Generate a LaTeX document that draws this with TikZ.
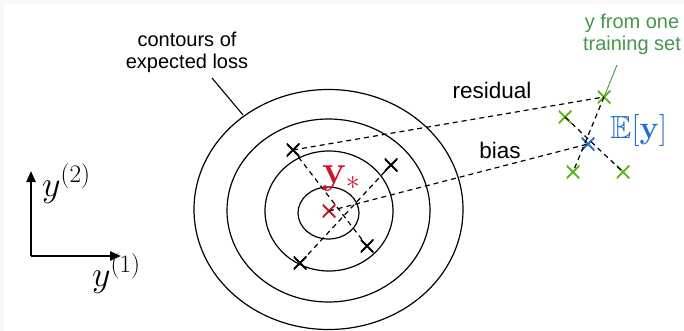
\RequirePackage{fix-cm}
\documentclass[tikz,border=0pt]{standalone}
\usepackage{amsmath,amssymb}
\usepackage[no-math]{fontspec}
\setmainfont{Liberation Sans}
\DeclareFontFamily{U}{msb}{}
\DeclareFontShape{U}{msb}{m}{n}{<-> msbm10}{}
\usetikzlibrary{arrows.meta}
\definecolor{txtgreen}{RGB}{70,150,75}
\definecolor{crgreen}{RGB}{95,185,30}
\definecolor{eblue}{RGB}{35,110,210}
\definecolor{ystar}{RGB}{205,20,45}
\definecolor{framegray}{RGB}{247,247,247}
\tikzset{
  contour/.style={line width=1.2pt},
  dashline/.style={line width=1.2pt, dash pattern=on 5pt off 4pt},
  crossmark/.style={draw=none, inner sep=0pt, minimum size=13pt, path picture={
      \draw[line width=2pt, #1] (path picture bounding box.north west) -- (path picture bounding box.south east)
        (path picture bounding box.south west) -- (path picture bounding box.north east);}},
  lbl/.style={font=\fontsize{20}{22}\selectfont, align=center, inner sep=0pt},
  biglbl/.style={font=\fontsize{22.5}{26}\selectfont, inner sep=0pt},
  mathlbl/.style={font=\fontsize{#1}{#1}\selectfont, inner sep=0pt, anchor=base west},
}
\begin{document}
\begin{tikzpicture}[x=1pt,y=-1pt]
\useasboundingbox (0,0) rectangle (684,331);
\fill[framegray] (0,0) rectangle (684,4.5);
\fill[framegray] (0,0) rectangle (3.5,331);
% contours
\draw[contour] (328.5,209.5) ellipse [x radius=134.5, y radius=120];
\draw[contour] (328.5,210.5) ellipse [x radius=101.5, y radius=91.5];
\draw[contour] (329,211) ellipse [x radius=64, y radius=60];
\draw[contour] (328.5,213) ellipse [x radius=30.5, y radius=26];
% crosses
\node[crossmark=black] (a) at (293,150) {};
\node[crossmark=black] (b) at (391,165) {};
\node[crossmark=black] (c) at (367,246) {};
\node[crossmark=black] (d) at (300,263) {};
\node[crossmark=ystar] (s) at (329,211) {};
\node[crossmark=crgreen] (g1) at (604,97) {};
\node[crossmark=crgreen] (g2) at (565,117) {};
\node[crossmark=crgreen] (g3) at (573,172) {};
\node[crossmark=crgreen] (g4) at (623,172) {};
\node[crossmark=eblue] (e) at (588,144) {};
% dashed lines
\draw[dashline] (a.center) -- (c.center);
\draw[dashline] (b.center) -- (d.center);
\draw[dashline] (a.center) -- (g1.center);
\draw[dashline] (s.center) -- (e.center);
\draw[dashline] (g1.center) -- (g3.center);
\draw[dashline] (g2.center) -- (g4.center);
% labels
\node[mathlbl=40, text=ystar] (ys) at (322,183) {$\mathbf{y}_*$};
\node[mathlbl=32, text=eblue] (ey) at (610,139) {$\mathbb{E}[\mathbf{y}]$};
\node[biglbl] (res) at (492,90) {residual};
\node[biglbl] (bias) at (500,150) {bias};
\node[lbl] (cont) at (187,52) {contours of\\expected loss};
\node[lbl, text=txtgreen] (ytr) at (632,34) {y from one\\training set};
\coordinate (cp) at (243,115);
\draw[line width=1.1pt] (212,78) -- (cp);
\draw[line width=0.9pt, txtgreen] (617,65) -- (g1.center);
% axes
\coordinate (o) at (31,256);
\coordinate (ox) at (121,256);
\coordinate (oy) at (31,171);
\draw[line width=2.3pt, -{Triangle[length=11pt,width=9pt]}] (o) -- (oy);
\draw[line width=2.3pt, -{Triangle[length=11pt,width=9pt]}] (o) -- (ox);
\node[mathlbl=36] (y2) at (42,196) {$y^{(2)}$};
\node[mathlbl=36] (y1) at (92,286) {$y^{(1)}$};
\end{tikzpicture}
\end{document}
